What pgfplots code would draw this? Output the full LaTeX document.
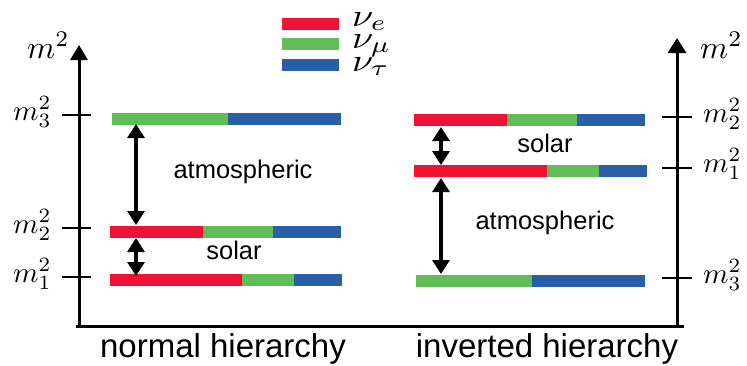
\documentclass[border=0pt]{standalone}
\usepackage{graphicx}
\usepackage{pgfplots}
\pgfplotsset{compat=1.18}
\usepackage{fontspec}
\setmainfont{Liberation Sans}
\usetikzlibrary{arrows.meta}
\definecolor{nue}{RGB}{240,18,50}
\definecolor{numu}{RGB}{96,189,88}
\definecolor{nutau}{RGB}{42,94,166}

% math labels are set at 10pt and enlarged
\newcommand{\mlab}[1]{\scalebox{2.9}{$#1$}}
\newcommand{\mbig}[1]{\scalebox{3.2}{$#1$}}
\newcommand{\mnu}[1]{\scalebox{3.8}[3.2]{$#1$}}

\tikzset{
  level/.style={line width=12.5pt},
  axisline/.style={black, line width=3pt},
  tickmark/.style={black, line width=2.5pt},
  gap/.style={black, line width=3.2pt,
    {Triangle[width=17pt,length=14pt]}-{Triangle[width=17pt,length=14pt]}},
  lbl/.style={font=\fontsize{25.5}{28}\selectfont},
  mlbl/.style={anchor=base west, inner sep=0pt},
  big/.style={font=\fontsize{33}{36}\selectfont, anchor=base, inner sep=0pt},
}

\begin{document}
\begin{tikzpicture}
\begin{axis}[
  scale only axis, width=747pt, height=365pt,
  xmin=0, xmax=747, ymin=0, ymax=365, y dir=reverse,
  hide axis, clip=false,
]
% ---- frame: m^2 axes and common baseline ----
\addplot[axisline] coordinates {(76,326) (684,326)};
\addplot[axisline, -{Triangle[width=17pt,length=15pt]}] coordinates {(79,327) (79,45)};
\addplot[axisline, -{Triangle[width=18pt,length=15pt]}] coordinates {(677,327) (677,38)};

% ---- normal hierarchy ----
\addplot[tickmark] coordinates {(62,115) (91,115)};
\addplot[tickmark] coordinates {(62,228) (91,228)};
\addplot[tickmark] coordinates {(62,277) (91,277)};
% m3
\addplot[level, numu]  coordinates {(112,119) (228,119)};
\addplot[level, nutau] coordinates {(228,119) (341,119)};
% m2
\addplot[level, nue]   coordinates {(110,232) (203,232)};
\addplot[level, numu]  coordinates {(203,232) (273,232)};
\addplot[level, nutau] coordinates {(273,232) (341,232)};
% m1
\addplot[level, nue]   coordinates {(110,280) (242,280)};
\addplot[level, numu]  coordinates {(242,280) (294,280)};
\addplot[level, nutau] coordinates {(294,280) (342,280)};
% splittings
\addplot[gap] coordinates {(136,124) (136,225)};
\addplot[gap] coordinates {(136,238) (136,276)};

% ---- inverted hierarchy ----
\addplot[tickmark] coordinates {(662,117) (692,117)};
\addplot[tickmark] coordinates {(662,168) (692,168)};
\addplot[tickmark] coordinates {(662,278) (692,278)};
% m2
\addplot[level, nue]   coordinates {(414,120) (507,120)};
\addplot[level, numu]  coordinates {(507,120) (577,120)};
\addplot[level, nutau] coordinates {(577,120) (645,120)};
% m1
\addplot[level, nue]   coordinates {(414,171) (547,171)};
\addplot[level, numu]  coordinates {(547,171) (599,171)};
\addplot[level, nutau] coordinates {(599,171) (647,171)};
% m3
\addplot[level, numu]  coordinates {(416,281) (532,281)};
\addplot[level, nutau] coordinates {(532,281) (645,281)};
% splittings
\addplot[gap] coordinates {(441,127) (441,165)};
\addplot[gap] coordinates {(441,178) (441,274)};

% ---- legend ----
\addplot[level, line width=12pt, nue]   coordinates {(282,24) (339,24)};
\addplot[level, line width=12pt, numu]  coordinates {(282,44) (339,44)};
\addplot[level, line width=12pt, nutau] coordinates {(282,65) (339,65)};
\node[mlbl] at (352,26) {\mnu{\nu_e}};
\node[mlbl] at (352,48) {\mnu{\nu_\mu}};
\node[mlbl] at (352,71) {\mnu{\nu_\tau}};

% ---- labels ----
\node[mlbl] at (27,58) {\mbig{m^2}};
\node[mlbl] at (700,58) {\mbig{m^2}};
\node[mlbl] at (13,120) {\mlab{m_3^2}};
\node[mlbl] at (13,233) {\mlab{m_2^2}};
\node[mlbl] at (13,282) {\mlab{m_1^2}};
\node[mlbl] at (703,122) {\mlab{m_2^2}};
\node[mlbl] at (703,172) {\mlab{m_1^2}};
\node[mlbl] at (703,283) {\mlab{m_3^2}};

\node[lbl] at (243,172) {atmospheric};
\node[lbl] at (234,250) {solar};
\node[lbl] at (545,143) {solar};
\node[lbl] at (545,223) {atmospheric};

\node[big] at (223,357) {normal hierarchy};
\node[big] at (547,357) {inverted hierarchy};
\end{axis}
\pgfresetboundingbox
\path[use as bounding box] (0,0) rectangle (747pt,365pt);
\end{tikzpicture}
\end{document}
